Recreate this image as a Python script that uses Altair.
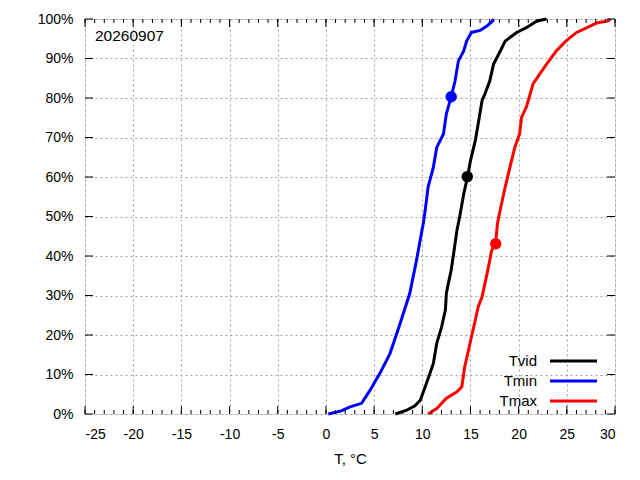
import altair as alt
import pandas as pd

# ---- data ----
tvid_t = [7.2, 8.4, 9.2, 9.8, 10.3, 10.8, 11.15, 11.5, 12.0, 12.4, 12.5, 12.7, 13.0, 13.3, 13.6, 13.9,
          14.3, 14.7, 15.0, 15.5, 15.8, 16.2, 16.5, 17.0, 17.4, 18.1, 18.6, 19.8, 20.8, 21.9, 22.9]
tvid_p = [0, 1, 2, 3.5, 6.9, 10.3, 12.8, 17.9, 22, 26.3, 30.5, 33, 36.4, 41.4, 46.5, 50.2,
          55.7, 60.1, 64.1, 69.2, 73.4, 79.3, 81, 84.3, 88.6, 91.9, 94.4, 96.6, 97.8, 99.5, 100]

tmin_t = [0.25, 1.6, 2.5, 3.7, 4.6, 5.6, 6.65, 7.7, 8.7, 9.4, 10.1, 10.3, 10.6, 11.15, 11.5, 12.2,
          12.5, 13.0, 13.4, 13.75, 14.3, 14.6, 15.1, 16.0, 16.7, 17.3, 17.4]
tmin_p = [0, 0.8, 1.8, 2.7, 6.1, 10.3, 15.3, 22.9, 30.5, 38.9, 48.2, 51.5, 57.4, 62.5, 67.5, 70.9,
          76, 80.3, 84.3, 89.4, 91.9, 94.4, 96.6, 97.1, 98.2, 99.5, 100]

tmax_t = [10.6, 11.5, 12.5, 13.6, 14.1, 14.4, 14.8, 15.1, 15.5, 15.8, 16.2, 16.5, 16.8, 17.2, 17.6,
          17.8, 18.0, 18.6, 19.1, 19.6, 20.1, 20.3, 20.8, 21.2, 21.5, 22.2, 22.9, 23.9, 24.9, 26.0,
          27.1, 28.1, 29.3, 29.5]
tmax_p = [0, 1.4, 4, 5.6, 6.9, 11.9, 16.2, 19.5, 23.7, 27.1, 29.6, 33, 36.4, 41.4, 43.1,
          48.2, 50.7, 57.4, 62.5, 67.5, 70.9, 75.1, 77.7, 81, 83.6, 86.1, 88.6, 91.9, 94.4, 96.6,
          97.8, 99, 99.5, 100]

series_names = ["Tvid", "Tmin", "Tmax"]
series_colors = ["#000000", "#0000ff", "#ff0000"]

marker_t = [14.67, 13.0, 17.62]
marker_p = [60.1, 80.3, 43.1]

date_label = "20260907"
x_ticks = list(range(-25, 31, 5))
x_minor = list(range(-25, 31, 1))
y_ticks = list(range(0, 101, 10))

# ---- tables ----
rows = []
for name, ts, ps in [("Tvid", tvid_t, tvid_p), ("Tmin", tmin_t, tmin_p), ("Tmax", tmax_t, tmax_p)]:
    for i, (t, p) in enumerate(zip(ts, ps)):
        rows.append({"series": name, "T": t, "P": p, "idx": i})
df = pd.DataFrame(rows)
markers = pd.DataFrame({"series": series_names, "T": marker_t, "P": marker_p})
xt = pd.DataFrame({"T": x_ticks})
xm = pd.DataFrame({"T": x_minor})
yt = pd.DataFrame({"P": y_ticks})

FONT = "Liberation Sans"
W, H = 530, 395
xscale = alt.Scale(domain=[-25, 30], nice=False, zero=False)
yscale = alt.Scale(domain=[0, 100], nice=False, zero=False)
cscale = alt.Scale(domain=series_names, range=series_colors)

x_axis = alt.Axis(values=x_ticks, title="T, °C", ticks=False, domain=False, grid=True,
                  gridDash=[2, 3], gridColor="#a0a0a0", gridOpacity=1, labelPadding=13,
                  labelExpr="'' + datum.value", labelOverlap=False,
                  titlePadding=10, labelFontSize=14, titleFontSize=15, labelFont=FONT,
                  titleFont=FONT, titleFontWeight="normal", labelColor="#000000",
                  titleColor="#000000")
y_axis = alt.Axis(values=y_ticks, title=None, ticks=False, domain=False, grid=True,
                  gridDash=[2, 3], gridColor="#a0a0a0", gridOpacity=1, labelPadding=12,
                  labelOverlap=False, labelExpr="datum.value + '%'", labelFontSize=14,
                  labelFont=FONT, labelColor="#000000")


def X():
    return alt.X("T:Q", scale=xscale, axis=x_axis)


def Y():
    return alt.Y("P:Q", scale=yscale, axis=y_axis)


lines = alt.Chart(df).mark_line(strokeWidth=3, strokeJoin="miter").encode(
    x=X(), y=Y(),
    color=alt.Color("series:N", scale=cscale, legend=None),
    order="idx:Q",
    detail="series:N",
)

dots = alt.Chart(markers).mark_circle(size=130, opacity=1).encode(
    x=X(), y=Y(),
    color=alt.Color("series:N", scale=cscale, legend=None),
)

tick_layers = [
    alt.Chart(xt).mark_rule(color="black").encode(x=X(), y=alt.value(H), y2=alt.value(H - 8)),
    alt.Chart(xm).mark_rule(color="black").encode(x=X(), y=alt.value(H), y2=alt.value(H - 4)),
    alt.Chart(xt).mark_rule(color="black").encode(x=X(), y=alt.value(0), y2=alt.value(8)),
    alt.Chart(xm).mark_rule(color="black").encode(x=X(), y=alt.value(0), y2=alt.value(4)),
    alt.Chart(yt).mark_rule(color="black").encode(y=Y(), x=alt.value(0), x2=alt.value(8)),
    alt.Chart(yt).mark_rule(color="black").encode(y=Y(), x=alt.value(W), x2=alt.value(W - 8)),
]

date_text = alt.Chart(pd.DataFrame({"label": [date_label]})).mark_text(
    align="left", baseline="middle", fontSize=15.5, color="black", font=FONT
).encode(x=alt.value(10), y=alt.value(17), text="label:N")

legend_layers = []
for i, (name, col) in enumerate(zip(series_names, series_colors)):
    ldf = pd.DataFrame({"series": [name]})
    ypix = 342 + 20 * i
    legend_layers.append(
        alt.Chart(ldf).mark_text(align="right", baseline="middle", fontSize=15, color="black", font=FONT)
        .encode(x=alt.value(452), y=alt.value(ypix), text="series:N"))
    legend_layers.append(
        alt.Chart(ldf).mark_rule(color=col, strokeWidth=3)
        .encode(x=alt.value(465), x2=alt.value(512), y=alt.value(ypix)))

chart = alt.layer(lines, dots, *tick_layers, date_text, *legend_layers).properties(
    width=W, height=H,
    autosize=alt.AutoSizeParams(type="none"),
    padding={"left": 77, "top": 11, "right": 10, "bottom": 60},
).configure_view(stroke="black", strokeWidth=1).configure(
    font=FONT
)

chart.save("out.html", embed_options={"renderer": "svg", "actions": False})
